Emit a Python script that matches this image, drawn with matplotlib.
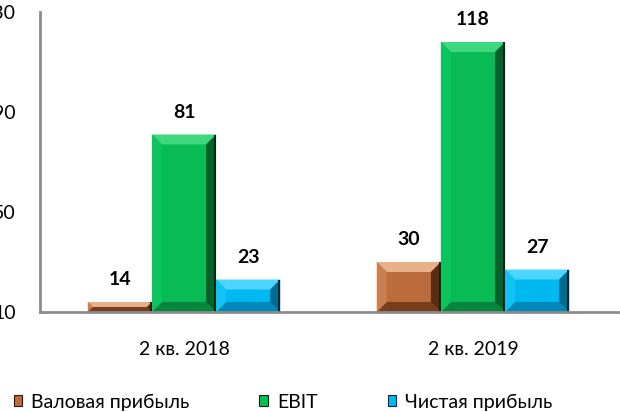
import matplotlib
matplotlib.use("Agg")
import matplotlib.pyplot as plt
from matplotlib.patches import Polygon, Rectangle
from matplotlib.transforms import IdentityTransform
import numpy as np

categories = ["2 кв. 2018", "2 кв. 2019"]
series_names = ["Валовая прибыль", "EBIT", "Чистая прибыль"]
gross = [14, 30]
ebit = [81, 118]
net = [23, 27]
yticks = [10, 50, 90, 130]
title_text = "Динамика прибыли, млрд руб."

colors = ["#BC6C3C", "#08BB55", "#00B8F0"]
light = ["#E8B088", "#3ED77E", "#4AD6FF"]
leftc = ["#C9804F", "#0CC45E", "#12C2F5"]
bottomc = ["#7A3E1E", "#06853D", "#0288B8"]
rightc = ["#5A2C14", "#05602C", "#036A92"]
edge = ["#2E160A", "#022A12", "#02283A"]

plt.rcParams["font.family"] = ["Lato", "DejaVu Sans"]
FS = 14

fig = plt.figure(figsize=(6.2, 4.12), dpi=100)
ax = fig.add_axes([39.5 / 620, 100 / 412, 578 / 620, 300 / 412])

x = np.arange(len(categories))
w = 0.222
values = [gross, ebit, net]
bars = []
for i, vals in enumerate(values):
    b = ax.bar(x + (i - 1) * w, vals, width=w, bottom=0, color=colors[i],
               edgecolor="none", label=series_names[i], zorder=2)
    bars.append(b)

ax.set_ylim(10, 130)
ax.set_xlim(-0.5, 1.5)
ax.set_yticks(yticks)
ax.set_xticks(x)
ax.set_xticklabels(categories, fontsize=FS)
ax.tick_params(axis="x", length=0, pad=21)
ax.tick_params(axis="y", length=0, pad=17, labelsize=FS)
for s in ["top", "right"]:
    ax.spines[s].set_visible(False)
for s in ["left", "bottom"]:
    ax.spines[s].set_color("#8C8C8C")
    ax.spines[s].set_linewidth(2)
    ax.spines[s].set_zorder(5)

fig.canvas.draw()
bev = 10
for i, b in enumerate(bars):
    for rect, v in zip(b, values[i]):
        x0d = rect.get_x()
        x1d = x0d + rect.get_width()
        (px0, py0) = ax.transData.transform((x0d, 10))
        (px1, py1) = ax.transData.transform((x1d, v))
        bb = min(bev, (py1 - py0) / 2)
        kw = dict(transform=IdentityTransform(), zorder=3, linewidth=0)
        ax.add_patch(Polygon([(px0, py1), (px1, py1), (px1 - bb, py1 - bb), (px0 + bb, py1 - bb)],
                             closed=True, facecolor=light[i], **kw))
        ax.add_patch(Polygon([(px0, py0), (px1, py0), (px1 - bb, py0 + bb), (px0 + bb, py0 + bb)],
                             closed=True, facecolor=bottomc[i], **kw))
        ax.add_patch(Polygon([(px0, py0), (px0 + bb, py0 + bb), (px0 + bb, py1 - bb), (px0, py1)],
                             closed=True, facecolor=leftc[i], **kw))
        ax.add_patch(Polygon([(px1, py0), (px1 - bb, py0 + bb), (px1 - bb, py1 - bb), (px1, py1)],
                             closed=True, facecolor=rightc[i], **kw))
        ax.add_patch(Rectangle((px1 - 2, py0), 2, py1 - py0, facecolor=edge[i], **kw))
        ax.annotate(f"{v}", xy=(rect.get_x() + rect.get_width() / 2, v),
                    xytext=(0, 16), textcoords="offset points", ha="center", va="center",
                    fontsize=FS, fontweight="bold", color="#000000", zorder=6,
                    annotation_clip=False)

handles = [Rectangle((0, 0), 1, 1, facecolor=colors[i], edgecolor=edge[i], linewidth=0.8)
           for i in range(3)]
fig.legend(handles, series_names, loc="center left", bbox_to_anchor=(0.0, 10 / 412),
           ncol=3, frameon=False, fontsize=FS, handlelength=0.45, handleheight=0.45,
           handletextpad=0.45, columnspacing=3.6, borderpad=0.2)

fig.text(118 / 620, 1 + 3.0 / 412, title_text, ha="left", va="baseline",
         fontsize=13, fontweight="bold", color="#000000")

fig.savefig("out.png", dpi=100)
